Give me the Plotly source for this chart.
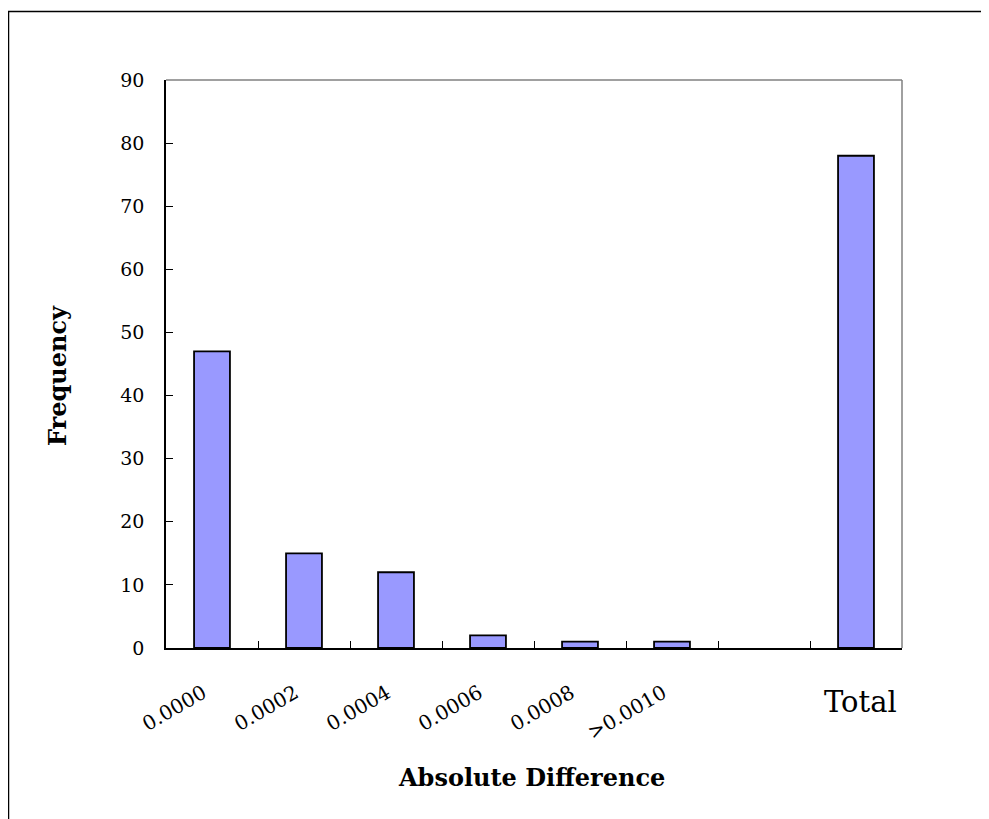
import plotly.graph_objects as go

categories = ["0.0000", "0.0002", "0.0004", "0.0006", "0.0008", ">0.0010", " ", "Total"]
tick_labels = ["0.0000", "0.0002", "0.0004", "0.0006", "0.0008", ">0.0010", "", ""]
frequency = [47, 15, 12, 2, 1, 1, None, 78]

FONT = "DejaVu Serif"
OFF = 8  # browser body margin

W, H = 989 - OFF, 819 - OFF
L, T = 166 - OFF, 80 - OFF
R = W - (902 - OFF)
B = H - (648 - OFF)
pw, ph = W - L - R, H - T - B

def px(x):
    return (x - OFF - L) / pw

def py(y):
    return (H - B - (y - OFF)) / ph

fig = go.Figure()
fig.add_trace(go.Bar(
    x=categories, y=frequency,
    marker=dict(color="#9999FF", line=dict(color="black", width=1.8)),
    width=0.39,
))

fig.update_layout(
    width=W, height=H,
    margin=dict(l=L, r=R, t=T, b=B),
    paper_bgcolor="white", plot_bgcolor="white",
    font=dict(family=FONT, color="black", size=19),
    showlegend=False,
    xaxis=dict(
        type="category",
        tickmode="array", tickvals=categories, ticktext=tick_labels,
        tickson="boundaries",
        ticks="inside", ticklen=7, tickcolor="black", tickwidth=1,
        tickangle=-30,
        ticklabelstandoff=24,
        ticklabelshift=-9,
        showline=True, linecolor="black", linewidth=1.5,
        showgrid=False, zeroline=False,
        tickfont=dict(family=FONT, size=20),
    ),
    yaxis=dict(
        range=[0, 90], dtick=10,
        ticks="inside", ticklen=7, tickcolor="black", tickwidth=1,
        ticklabelstandoff=16,
        showline=True, linecolor="black", linewidth=1.5,
        showgrid=False, zeroline=False,
        tickfont=dict(family=FONT, size=19),
    ),
    shapes=[
        dict(type="line", xref="paper", yref="paper", x0=0, x1=1, y0=1, y1=1,
             line=dict(color="#808080", width=1.5)),
        dict(type="line", xref="paper", yref="paper", x0=1, x1=1, y0=0, y1=1,
             line=dict(color="#808080", width=1.5)),
        dict(type="rect", xref="paper", yref="paper",
             x0=px(8.5), x1=px(1200), y0=py(11.5), y1=py(1000),
             line=dict(color="black", width=1.5), layer="below"),
    ],
    annotations=[
        dict(text="Total", xref="x", yref="paper", x="Total", y=py(702), xshift=4,
             showarrow=False, font=dict(family=FONT, size=29), xanchor="center", yanchor="middle"),
        dict(text="<b>Absolute Difference</b>", xref="paper", yref="paper", x=px(531), y=py(777),
             showarrow=False, font=dict(family=FONT, size=24), xanchor="center", yanchor="middle"),
        dict(text="<b>Frequency</b>", xref="paper", yref="paper", x=px(58), y=py(375),
             showarrow=False, textangle=-90, font=dict(family=FONT, size=24),
             xanchor="center", yanchor="middle"),
    ],
)

fig.write_html("out.html")
